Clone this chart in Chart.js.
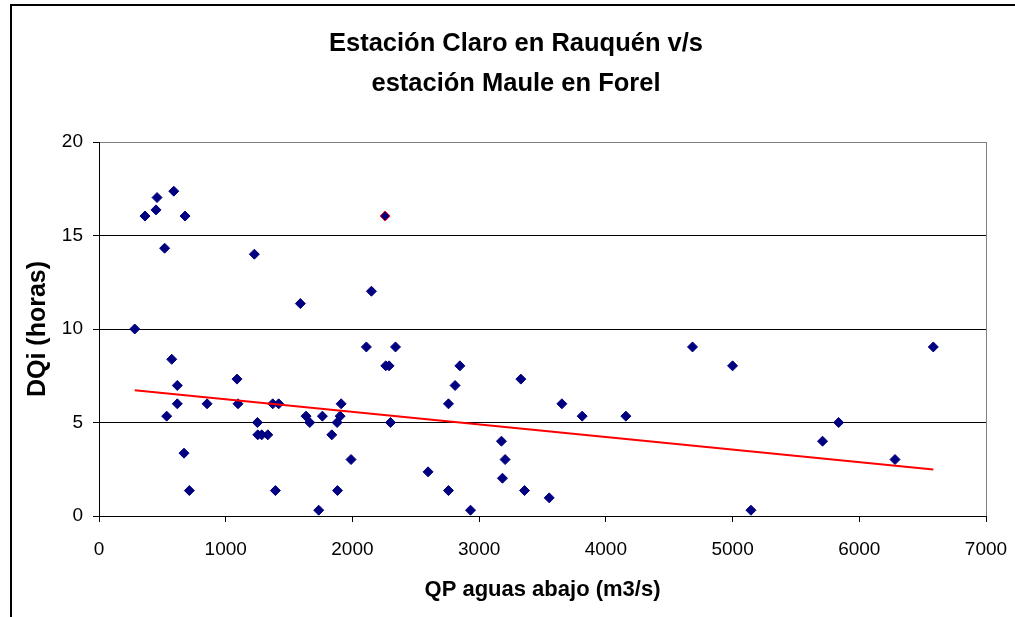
<!DOCTYPE html>
<html>
<head>
<meta charset="utf-8">
<title>Estación Claro en Rauquén v/s estación Maule en Forel</title>
<script src="https://cdn.jsdelivr.net/npm/chart.js@4.4.1/dist/chart.umd.min.js"></script>
<style>
  html, body { margin: 0; padding: 0; background: white; overflow: hidden; }
  .frame { position: absolute; left: 10px; top: 4px; width: 1100px; height: 700px;
    border-left: 2px solid #000; border-top: 2px solid #000; }
  .wrap { position: absolute; left: 0; top: 0; width: 1015px; height: 617px; }
</style>
</head>
<body>
<div class="frame"></div>
<div class="wrap"><canvas id="c" width="1015" height="617"></canvas></div>
<script>
// Estación Claro en Rauquén v/s estación Maule en Forel
// DQi (horas) against QP aguas abajo (m3/s), with linear trend line

const titleLines = ['Estación Claro en Rauquén v/s', 'estación Maule en Forel'];
const xTitle = 'QP aguas abajo (m3/s)';
const yTitle = 'DQi (horas)';

// QP aguas abajo (m3/s)
const qpValues = [
  282, 363, 450, 458, 590, 679, 518, 1226, 2258, 1589,
  2150, 574, 2110, 2340, 2263, 2289, 1089, 618, 618, 853,
  1097, 1371, 1418, 1911, 534, 1634, 1763, 1903, 1663, 1879,
  2300, 1250, 1253, 1284, 1332, 1837, 1989, 671, 713, 1392,
  1882, 1734, 2848, 2810, 2758, 3329, 3653, 3813, 4158, 4684,
  3176, 3205, 2597, 3184, 2758, 3358, 3553, 2932, 5000, 6584,
  5837, 5710, 6282, 5145
];
// DQi (horas)
const dqiValues = [
  10.0, 16.04, 16.37, 17.03, 17.37, 16.04, 14.32, 14.0, 16.04, 11.36,
  12.02, 8.38, 9.04, 9.04, 8.03, 8.03, 7.32, 6.98, 6.0, 6.0,
  6.0, 6.0, 6.0, 6.0, 5.34, 5.34, 5.34, 5.34, 5.0, 5.0,
  5.0, 5.0, 4.34, 4.34, 4.34, 4.34, 3.02, 3.36, 1.36, 1.36,
  1.36, 0.31, 8.03, 6.98, 6.0, 7.32, 6.0, 5.34, 5.34, 9.04,
  4.0, 3.02, 2.36, 2.02, 1.36, 1.36, 0.97, 0.31, 8.03, 9.04,
  5.0, 4.0, 3.02, 0.31
];
// the one point drawn with a red outline
const highlightIndex = 8;

// linear trend line end points
const trendX = [282, 6584];
const trendY = [6.73, 2.49];

const FONT = "'Liberation Sans', Arial, sans-serif";
const NAVY = '#000080';
const RED = '#FF0000';

const titlePlugin = {
  id: 'twoLineTitle',
  afterDraw: function (chart) {
    const ctx = chart.ctx;
    ctx.save();
    ctx.font = 'bold 25.5px ' + FONT;
    ctx.fillStyle = '#000';
    ctx.textAlign = 'center';
    ctx.textBaseline = 'middle';
    titleLines.forEach(function (t, i) {
      ctx.fillText(t, 516, 44 + i * 40);
    });
    ctx.restore();
  }
};

const points = qpValues.map(function (x, i) { return { x: x, y: dqiValues[i] }; });
const trend = trendX.map(function (x, i) { return { x: x, y: trendY[i] }; });

new Chart(document.getElementById('c'), {
  type: 'scatter',
  data: {
    datasets: [
      {
        label: 'DQi',
        data: points,
        pointStyle: 'rectRot',
        pointRadius: 5,
        pointBorderWidth: 1,
        backgroundColor: NAVY,
        borderColor: function (c) { return c.dataIndex === highlightIndex ? RED : NAVY; },
        order: 2
      },
      {
        label: 'Tendencia',
        type: 'line',
        data: trend,
        borderColor: RED,
        borderWidth: 2,
        pointRadius: 0,
        fill: false,
        order: 1
      }
    ]
  },
  options: {
    responsive: false,
    animation: false,
    events: [],
    layout: { padding: { top: 142, right: 29, left: 0, bottom: 0 } },
    plugins: {
      legend: { display: false },
      tooltip: { enabled: false },
      title: { display: false }
    },
    scales: {
      x: {
        type: 'linear',
        min: 0, max: 7000,
        afterFit: function (s) { s.height = 101; s.paddingLeft = 0; s.paddingRight = 0; },
        ticks: { stepSize: 1000, color: '#000', padding: 16,
          font: { family: FONT, size: 19 },
          callback: function (v) { return String(v); } },
        grid: {
          color: function (c) { return c.tick && c.tick.value === 7000 ? '#808080' : 'rgba(0,0,0,0)'; },
          tickColor: '#000',
          tickLength: 6
        },
        border: { color: '#000', width: 1 },
        title: { display: true, text: xTitle, color: '#000',
          font: { family: FONT, size: 22, weight: 'bold' },
          padding: { top: 0, bottom: 13.8 } }
      },
      y: {
        min: 0, max: 20,
        afterFit: function (s) { s.width = 99; s.paddingTop = 0; s.paddingBottom = 0; },
        ticks: { stepSize: 5, color: '#000', padding: 10,
          font: { family: FONT, size: 19 } },
        grid: {
          color: function (c) { return c.tick && c.tick.value === 20 ? '#808080' : '#000'; },
          tickColor: '#000',
          tickLength: 6
        },
        border: { color: '#000', width: 1 },
        title: { display: true, text: yTitle, color: '#000',
          font: { family: FONT, size: 25, weight: 'bold' },
          padding: { top: 23, bottom: 0 } }
      }
    }
  },
  plugins: [titlePlugin]
});
</script>
</body>
</html>
